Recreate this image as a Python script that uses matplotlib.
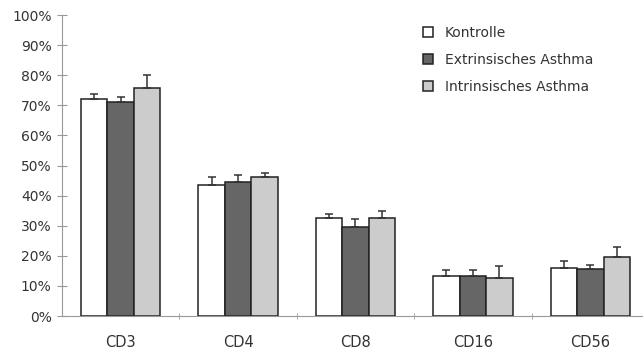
import numpy as np
import matplotlib
matplotlib.use('Agg')
import matplotlib.pyplot as plt
from matplotlib.ticker import PercentFormatter

categories = ['CD3', 'CD4', 'CD8', 'CD16', 'CD56']
groups = ['Kontrolle', 'Extrinsisches Asthma', 'Intrinsisches Asthma']
kontrolle = [72.0, 43.5, 32.7, 13.3, 16.0]
extrinsisch = [71.0, 44.5, 29.5, 13.3, 15.7]
intrinsisch = [75.7, 46.3, 32.7, 12.5, 19.5]
err_kontrolle = [1.7, 2.8, 1.1, 2.0, 2.4]
err_extrinsisch = [1.8, 2.5, 2.6, 2.0, 1.3]
err_intrinsisch = [4.3, 1.1, 2.3, 4.2, 3.3]

plt.rcParams['font.family'] = ['DejaVu Sans']

fig = plt.figure(figsize=(6.43, 3.53), dpi=100)
ax = fig.add_axes([62/643, 37/353, 587/643, 301/353])

x = np.arange(len(categories))
w = 0.225
series = [kontrolle, extrinsisch, intrinsisch]
errs = [err_kontrolle, err_extrinsisch, err_intrinsisch]
colors = ['white', '#666666', '#cccccc']
for i in range(3):
    ax.bar(x + (i - 1) * w, series[i], w, color=colors[i], edgecolor='#222222',
           linewidth=1.1, label=groups[i],
           yerr=[np.zeros(5), errs[i]], error_kw=dict(ecolor='#333333', elinewidth=1.1, capsize=3, capthick=1.1))

ax.set_xlim(-0.5, 4.5)
ax.set_ylim(0, 100)
ax.set_yticks(range(0, 101, 10))
ax.yaxis.set_major_formatter(PercentFormatter(decimals=0))
ax.set_xticks(x)
ax.set_xticklabels(categories)
ax.set_xticks(np.arange(0.5, 4.5, 1), minor=True)
ax.tick_params(axis='x', which='major', length=0, pad=14, labelsize=10.5, colors='#333333')
ax.tick_params(axis='x', which='minor', length=4, direction='inout', color='#999999')
ax.tick_params(axis='y', length=7, direction='inout', color='#999999', labelsize=10, labelcolor='#333333', pad=4)
for s in ['top', 'right']:
    ax.spines[s].set_visible(False)
ax.spines['left'].set_color('#999999')
ax.spines['bottom'].set_color('#999999')

leg = ax.legend(loc='upper left', bbox_to_anchor=(0.615, 0.965), frameon=False, fontsize=10,
                borderpad=0, borderaxespad=0, labelcolor='#333333',
                handlelength=0.72, handleheight=0.72, handletextpad=0.86, labelspacing=0.94)

fig.savefig('out.png', dpi=100)
